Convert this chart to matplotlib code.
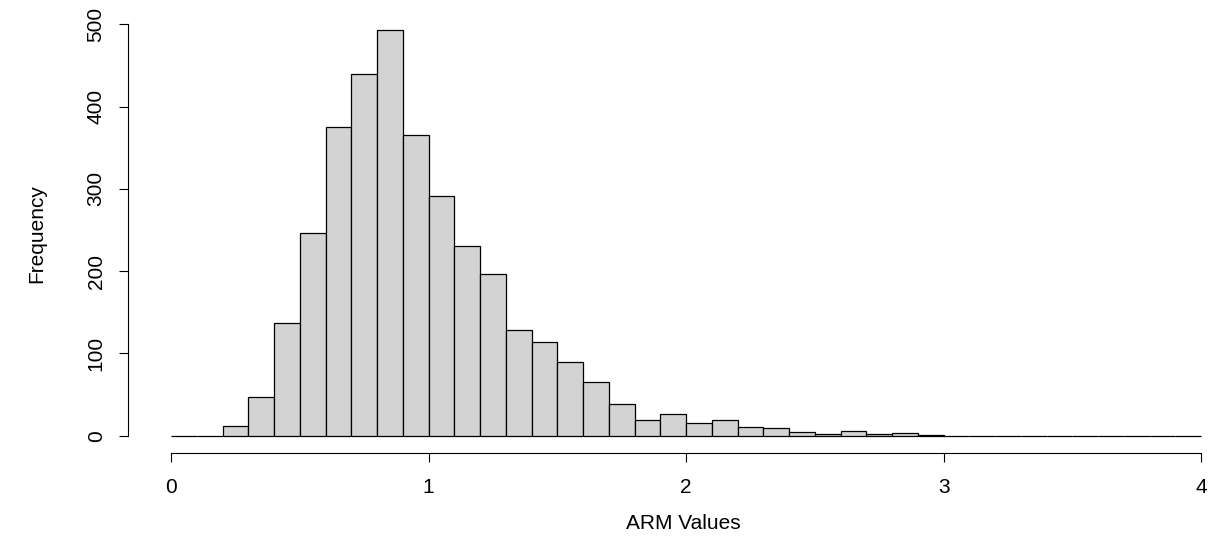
import numpy as np
import matplotlib
matplotlib.use("Agg")
import matplotlib.pyplot as plt

# histogram counts, bins of width 0.1 from 0 to 4
bin_width = 0.1
counts = [0, 0, 12, 47, 137, 246, 375, 439, 493, 365,
          291, 231, 197, 128, 114, 90, 65, 39, 19, 27,
          16, 19, 11, 9, 4, 2, 6, 2, 3, 1,
          0, 0, 0, 0, 0, 0, 0, 0, 0, 0]
x_ticks = [0, 1, 2, 3, 4]
y_ticks = [0, 100, 200, 300, 400, 500]
x_title = "ARM Values"
y_title = "Frequency"

plt.rcParams['font.family'] = ['Liberation Sans', 'DejaVu Sans']

fig = plt.figure(figsize=(12.23, 5.42), dpi=100)
ax = fig.add_axes([0.1049, 0.1651, 0.8951, 0.8091])

left_edges = np.arange(len(counts)) * bin_width
ax.bar(left_edges, counts, width=bin_width, align='edge',
       color='#d3d3d3', edgecolor='black', linewidth=0.9)

ax.set_xlim(-0.166, 4.085)
ax.set_ylim(-20.4, 512.5)

for s in ['top', 'right']:
    ax.spines[s].set_visible(False)
ax.spines['left'].set_bounds(0, 500)
ax.spines['bottom'].set_bounds(0, 4)
ax.spines['left'].set_linewidth(0.8)
ax.spines['bottom'].set_linewidth(0.8)

ax.set_xticks(x_ticks)
ax.set_xticklabels([str(t) for t in x_ticks])
ax.set_yticks(y_ticks)
ax.set_yticklabels([str(t) for t in y_ticks], rotation=90, va='center')
ax.tick_params(axis='both', length=6.3, width=0.8, labelsize=15)
ax.tick_params(axis='x', pad=12)
ax.tick_params(axis='y', pad=10)

ax.set_xlabel(x_title, fontsize=15, labelpad=12)
ax.xaxis.label.set_x(0.507)  # R centres the title on the full plot region
ax.set_ylabel(y_title, fontsize=15, labelpad=29)

fig.savefig("out.png", dpi=100)
